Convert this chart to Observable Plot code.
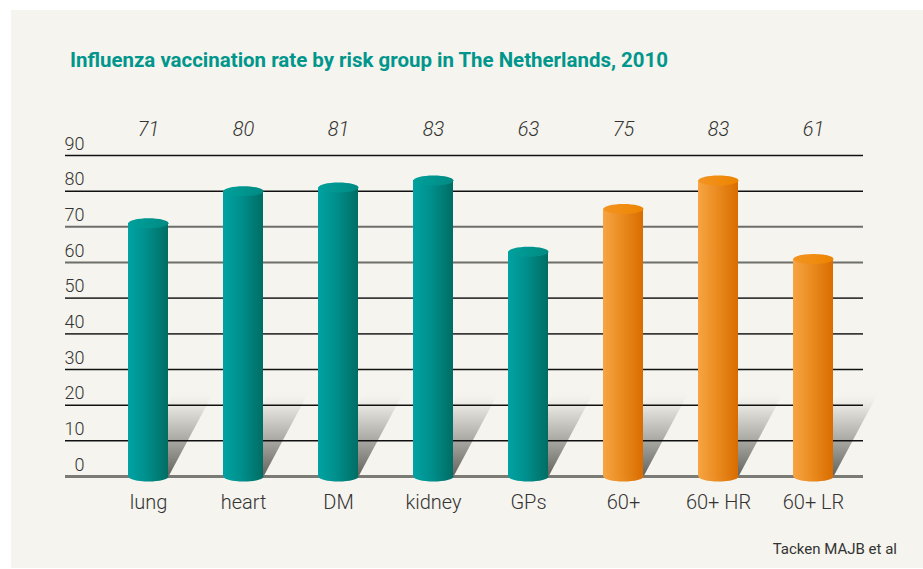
<!DOCTYPE html>
<html>
<head>
<meta charset="utf-8">
<script src="https://cdn.jsdelivr.net/npm/d3@7"></script>
<script src="https://cdn.jsdelivr.net/npm/@observablehq/plot@0.6"></script>
<style>
  html, body { margin: 0; padding: 0; background: #ffffff; width: 923px; height: 569px; overflow: hidden; }
  #panel { position: absolute; left: 11px; top: 10px; width: 912px; height: 558px; background: #f5f4ee; }
  #title { position: absolute; left: 70px; top: 50px; font-family: Roboto, sans-serif; font-weight: 700; font-size: 20px; line-height: 1; color: #00968c; white-space: nowrap; transform-origin: 0 0; }
  #chart { position: absolute; left: 0; top: 100px; }
  #caption { position: absolute; right: 26px; top: 542px; font-family: Roboto, sans-serif; font-size: 15px; line-height: 1; color: #333; white-space: nowrap; }
</style>
</head>
<body>
<div id="panel"></div>
<div id="title"></div>
<div id="chart"></div>
<div id="caption"></div>
<script>
const titleText = "Influenza vaccination rate by risk group in The Netherlands, 2010";
const sourceText = "Tacken MAJB et al";
const categories = ["lung", "heart", "DM", "kidney", "GPs", "60+", "60+ HR", "60+ LR"];
const rates = [71, 80, 81, 83, 63, 75, 83, 61];
const groups = ["risk", "risk", "risk", "risk", "risk", "age", "age", "age"];
const yTicks = [0, 10, 20, 30, 40, 50, 60, 70, 80, 90];

const data = categories.map((c, i) => ({category: c, rate: rates[i], group: groups[i]}));

const darkRules = yTicks.filter(t => [90, 80, 30, 20, 10].includes(t));
const midRules = yTicks.filter(t => [50, 40].includes(t));
const grayRules = yTicks.filter(t => [70, 60].includes(t));
const baseRule = yTicks.filter(t => t === 0);

function build(bw) {
  const ellipse = (ry) => ({
    draw(ctx) {
      const rx = bw / 2, k = 0.5523;
      ctx.moveTo(-rx, 0);
      ctx.bezierCurveTo(-rx, -ry * k, -rx * k, -ry, 0, -ry);
      ctx.bezierCurveTo(rx * k, -ry, rx, -ry * k, rx, 0);
      ctx.bezierCurveTo(rx, ry * k, rx * k, ry, 0, ry);
      ctx.bezierCurveTo(-rx * k, ry, -rx, ry * k, -rx, 0);
      ctx.closePath();
    }
  });
  const shadow = {
    draw(ctx) {
      const h = 86, s = 46;
      ctx.moveTo(-bw / 2, 0);
      ctx.lineTo(bw / 2, 0);
      ctx.lineTo(bw / 2 + s, -h);
      ctx.lineTo(-bw / 2 + s, -h);
      ctx.closePath();
    }
  };
  const isRisk = d => d.group === "risk";
  const isAge = d => d.group === "age";
  return Plot.plot({
    width: 923,
    height: 420,
    marginLeft: 70.65,
    marginRight: 33.5,
    marginTop: 55,
    marginBottom: 44,
    x: {domain: categories, padding: 0.58, axis: null},
    y: {domain: [0, 90], axis: null},
    style: {background: "transparent", fontFamily: "Roboto, sans-serif", overflow: "visible", color: "#333"},
    marks: [
      Plot.dot(data, {x: "category", y: d => 0, symbol: shadow, fill: "url(#shadowGrad)"}),
      Plot.ruleY(darkRules, {stroke: "#111", strokeWidth: 1.5, insetLeft: -5.65, insetRight: 26.5}),
      Plot.ruleY(midRules, {stroke: "#3a3a38", strokeWidth: 1.8, insetLeft: -5.65, insetRight: 26.5}),
      Plot.ruleY(grayRules, {stroke: "#6e6e6a", strokeWidth: 2, insetLeft: -5.65, insetRight: 26.5}),
      Plot.ruleY(baseRule, {stroke: "#7b7b76", strokeWidth: 3, insetLeft: -5.65, insetRight: 26.5}),
      Plot.dot(data, {filter: isRisk, x: "category", y: d => 0, symbol: ellipse(5), fill: "url(#bodyTeal)"}),
      Plot.dot(data, {filter: isAge, x: "category", y: d => 0, symbol: ellipse(5), fill: "url(#bodyOrange)"}),
      Plot.barY(data, {filter: isRisk, x: "category", y: "rate", fill: "url(#bodyTeal)"}),
      Plot.barY(data, {filter: isAge, x: "category", y: "rate", fill: "url(#bodyOrange)"}),
      Plot.dot(data, {filter: isRisk, x: "category", y: "rate", symbol: ellipse(5), fill: "url(#topTeal)"}),
      Plot.dot(data, {filter: isAge, x: "category", y: "rate", symbol: ellipse(5), fill: "url(#topOrange)"}),
      Plot.text(data, {x: "category", text: d => String(d.rate), frameAnchor: "top", lineAnchor: "bottom", dy: -20, fontSize: 20, fontStyle: "italic", fontWeight: 300, fill: "#333"}),
      Plot.text(yTicks, {y: d => d, text: d => String(d), frameAnchor: "left", textAnchor: "end", lineAnchor: "bottom", dx: 13.35, dy: -6, fontSize: 18, fontWeight: 300, fill: "#333"}),
      Plot.text(data, {x: "category", text: "category", frameAnchor: "bottom", lineAnchor: "bottom", dy: 32, fontSize: 20, fontWeight: 300, fill: "#333"})
    ]
  });
}

const first = build(40);
const bw = first.scale("x").bandwidth;
const plot = build(bw);

d3.select(plot).insert("defs", ":first-child").html(`
  <linearGradient id="bodyTeal" x1="0" y1="0" x2="1" y2="0">
    <stop offset="0" stop-color="#00a3a3"/>
    <stop offset="0.45" stop-color="#008f8c"/>
    <stop offset="1" stop-color="#006d64"/>
  </linearGradient>
  <linearGradient id="topTeal" x1="0" y1="0" x2="1" y2="0">
    <stop offset="0" stop-color="#00a09c"/>
    <stop offset="1" stop-color="#008a82"/>
  </linearGradient>
  <linearGradient id="bodyOrange" x1="0" y1="0" x2="1" y2="0">
    <stop offset="0" stop-color="#f7a443"/>
    <stop offset="0.5" stop-color="#e98a1e"/>
    <stop offset="1" stop-color="#d96c00"/>
  </linearGradient>
  <linearGradient id="topOrange" x1="0" y1="0" x2="1" y2="0">
    <stop offset="0" stop-color="#f39420"/>
    <stop offset="1" stop-color="#ed8400"/>
  </linearGradient>
  <linearGradient id="shadowGrad" x1="0" y1="0" x2="0" y2="1">
    <stop offset="0" stop-color="#f5f4ee" stop-opacity="0"/>
    <stop offset="0.25" stop-color="#d8d7d1" stop-opacity="0.9"/>
    <stop offset="1" stop-color="#62625d"/>
  </linearGradient>
`);

document.getElementById("chart").appendChild(plot);

const titleEl = document.getElementById("title");
titleEl.textContent = titleText;
const tw = titleEl.getBoundingClientRect().width;
titleEl.style.transform = `scaleX(${598 / tw})`;

document.getElementById("caption").textContent = sourceText;
</script>
</body>
</html>
